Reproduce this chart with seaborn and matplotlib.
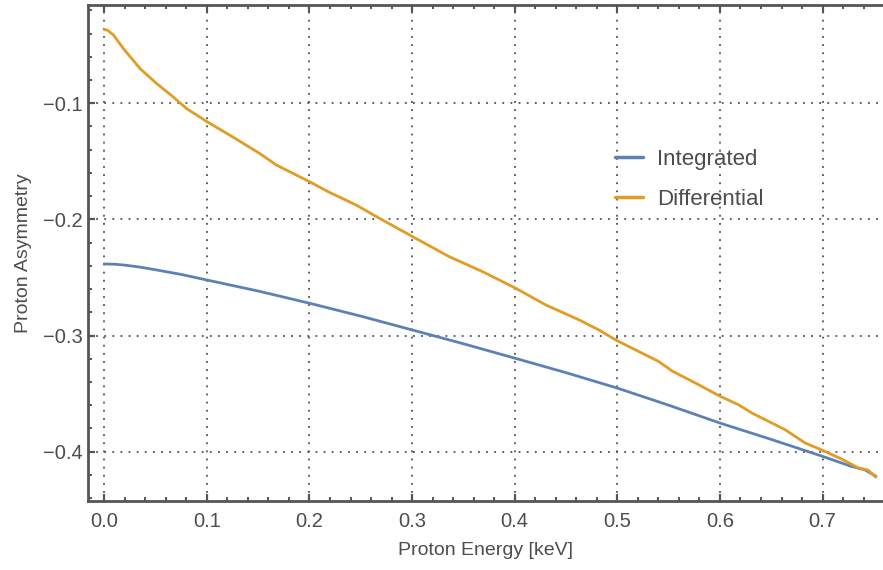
import numpy as np
import pandas as pd
import matplotlib
matplotlib.use("Agg")
import matplotlib.pyplot as plt
import seaborn as sns
from matplotlib.ticker import MultipleLocator

# values
energy_int = [0.0, 0.01, 0.02, 0.035, 0.05, 0.075, 0.1, 0.15, 0.2, 0.25, 0.3,
              0.35, 0.4, 0.45, 0.5, 0.55, 0.6, 0.65, 0.7, 0.728, 0.741, 0.752]
asym_int = [-0.2384, -0.2386, -0.2394, -0.2411, -0.2434, -0.2474, -0.2522,
            -0.2617, -0.2722, -0.2833, -0.2952, -0.3071, -0.3195, -0.3320,
            -0.3453, -0.3600, -0.3754, -0.3895, -0.4041, -0.4127, -0.4156,
            -0.4212]

energy_diff = [0.0, 0.003, 0.0088, 0.0188, 0.035, 0.0512, 0.0673, 0.0803,
               0.1004, 0.1224, 0.1516, 0.1678, 0.2002, 0.2196, 0.2293, 0.2456,
               0.2682, 0.3006, 0.3362, 0.3686, 0.401, 0.4301, 0.4626, 0.482,
               0.4998, 0.5403, 0.5533, 0.5792, 0.6003, 0.618, 0.631, 0.6634,
               0.6829, 0.7, 0.7184, 0.7347, 0.7444, 0.7518]
asym_diff = [-0.0366, -0.0370, -0.0410, -0.053, -0.0702, -0.0831, -0.0946,
             -0.1046, -0.116, -0.1275, -0.1433, -0.1532, -0.1676, -0.1768,
             -0.1808, -0.1877, -0.1991, -0.2149, -0.2321, -0.245, -0.2593,
             -0.2736, -0.2865, -0.2952, -0.3045, -0.3224, -0.3305, -0.3424,
             -0.3524, -0.3596, -0.3667, -0.3811, -0.3925, -0.3989, -0.4063,
             -0.414, -0.416, -0.422]

series_names = ["Integrated", "Differential"]
colors = {"Integrated": "#5E81B5", "Differential": "#E19C24"}

df = pd.concat([
    pd.DataFrame({"energy": energy_int, "asym": asym_int, "series": series_names[0]}),
    pd.DataFrame({"energy": energy_diff, "asym": asym_diff, "series": series_names[1]}),
])

sns.set_style("white")
plt.rcParams["font.family"] = ["Liberation Sans", "DejaVu Sans"]
text_col = "#4d4d4d"
frame_col = "#555555"

fig = plt.figure(figsize=(8.83, 5.70), dpi=100)
ax = fig.add_axes([0.1, 0.1211, 0.899, 0.8707])

sns.lineplot(data=df, x="energy", y="asym", hue="series", palette=colors,
             hue_order=series_names, linewidth=2.0, sort=False, ax=ax,
             estimator=None)

ax.set_xlim(-0.0155, 0.758)
ax.set_ylim(-0.4425, -0.0151)

ax.xaxis.set_major_locator(MultipleLocator(0.1))
ax.xaxis.set_minor_locator(MultipleLocator(0.02))
ax.yaxis.set_major_locator(MultipleLocator(0.1))
ax.yaxis.set_minor_locator(MultipleLocator(0.02))
ax.xaxis.set_major_formatter(matplotlib.ticker.FuncFormatter(lambda v, p: f"{v:.1f}"))
ax.yaxis.set_major_formatter(matplotlib.ticker.FuncFormatter(
    lambda v, p: f"\u2212{abs(v):.1f}" if v < 0 else f"{v:.1f}"))

ax.grid(True, which="major", color="#505050", linestyle=(0, (1, 3.5)), linewidth=1.3)
ax.set_axisbelow(True)

for side in ["left", "bottom", "top"]:
    ax.spines[side].set_color(frame_col)
    ax.spines[side].set_linewidth(2.0)
ax.spines["right"].set_visible(False)

ax.tick_params(which="both", direction="in", color=frame_col,
               bottom=True, left=True, top=True, right=False,
               labelcolor=text_col, labelsize=14.5)
ax.tick_params(which="major", length=5, width=1.6)
ax.tick_params(which="minor", length=3, width=1.4)
ax.tick_params(axis="x", pad=8)
ax.tick_params(axis="y", pad=4)

ax.set_xlabel("Proton Energy [keV]", fontsize=14, color=text_col, labelpad=8)
ax.set_ylabel("Proton Asymmetry", fontsize=14, color=text_col, labelpad=8)

leg = ax.legend(loc="center left", bbox_to_anchor=(0.6965, 0.6855),
                bbox_transform=fig.transFigure, frameon=False, fontsize=16,
                handlelength=1.26, handletextpad=0.63, labelspacing=0.85,
                borderpad=0, borderaxespad=0)
for t in leg.get_texts():
    t.set_color(text_col)
for h in leg.get_lines():
    h.set_linewidth(2.5)

fig.savefig("out.png", dpi=100)
